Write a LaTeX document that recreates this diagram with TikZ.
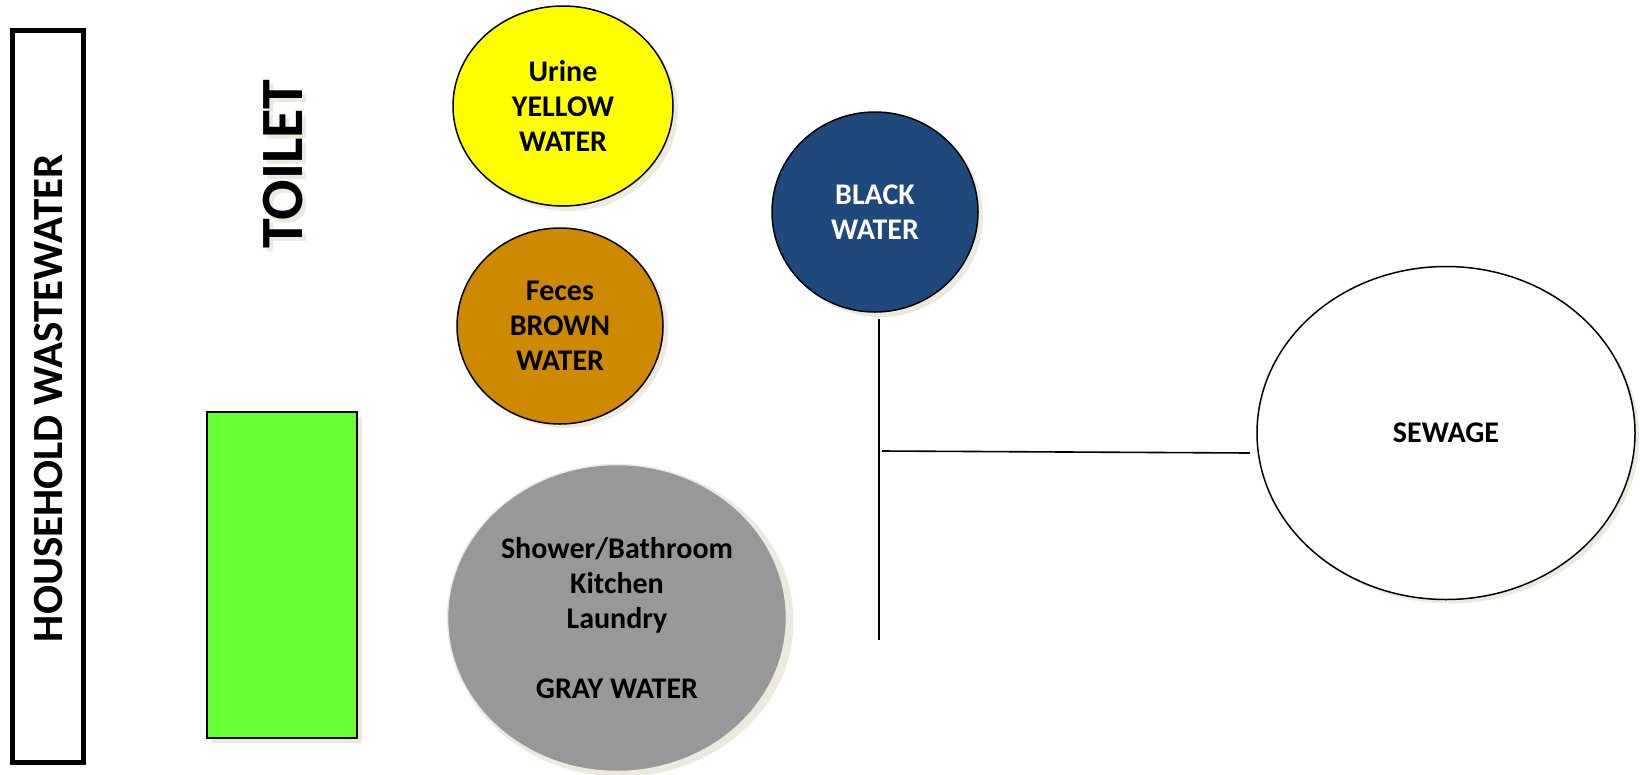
\documentclass[tikz,border=0pt]{standalone}
\usepackage{fontspec}
\setmainfont{Carlito}
\usetikzlibrary{shapes.geometric}
\definecolor{shadowc}{RGB}{236,233,222}
\definecolor{yel}{RGB}{255,255,0}
\definecolor{brn}{RGB}{205,137,0}
\definecolor{blk}{RGB}{31,73,125}
\definecolor{gry}{RGB}{152,152,152}
\definecolor{grn}{RGB}{102,255,51}
\tikzset{
  blob/.style={ellipse, draw=black, line width=1.5pt, inner sep=0pt, align=center,
    font=\bfseries\fontsize{30}{35}\selectfont},
  shade/.style={ellipse, fill=shadowc, draw=none, inner sep=0pt},
  wire/.style={line width=1.6pt, black},
}
\begin{document}
\begin{tikzpicture}[x=1pt,y=-1pt]
\useasboundingbox (0,0) rectangle (1640,774);
% household box
\draw[line width=5pt] (12.5,30.5) rectangle (83.5,762.5);
\node[rotate=90, font=\bfseries\fontsize{43}{43}\selectfont] (house) at (49,398) {HOUSEHOLD WASTEWATER};
% toilet
\node[rotate=90, text=shadowc, font=\bfseries\fontsize{60}{60}\selectfont] (toiletsh) at (287,168) {TOILET};
\node[rotate=90, font=\bfseries\fontsize{60}{60}\selectfont] (toilet) at (283,164) {TOILET};
% green rectangle
\fill[shadowc] (212,417) rectangle (362,743);
\node[draw=black, line width=2pt, fill=grn, minimum width=150pt, minimum height=326pt, inner sep=0pt] (green) at (282,575) {};
% shadows
\node[shade, minimum width=220pt, minimum height=200pt] at (568,111) {};
\node[shade, minimum width=206pt, minimum height=196pt] at (565,330) {};
\node[shade, minimum width=206pt, minimum height=200pt] at (880,217) {};
\node[shade, minimum width=345pt, minimum height=311pt] at (621,621) {};
\node[shade, minimum width=378pt, minimum height=333pt] at (1450,437) {};
% circles
\node[blob, fill=yel, minimum width=220pt, minimum height=200pt] (yellow) at (563,106) {Urine\\YELLOW\\WATER};
\node[blob, fill=brn, minimum width=206pt, minimum height=196pt] (brown) at (560,326) {Feces\\BROWN\\WATER};
\node[blob, fill=blk, text=white, minimum width=206pt, minimum height=200pt] (black) at (875,212) {BLACK\\WATER};
\node[blob, fill=gry, draw=shadowc, minimum width=339pt, minimum height=307pt] (gray) at (617,618) {Shower/Bathroom\\Kitchen\\Laundry\\[35pt]GRAY WATER};
\node[blob, fill=white, minimum width=378pt, minimum height=333pt] (sewage) at (1446,433) {SEWAGE};
% connectors
\coordinate (vtop) at (879,319);
\coordinate (vbot) at (879,640);
\coordinate (hj) at (882,451);
\coordinate (hend) at (1250,453);
\draw[wire] (vtop) -- (vbot);
\draw[wire] (hj) -- (hend);
\end{tikzpicture}
\end{document}
